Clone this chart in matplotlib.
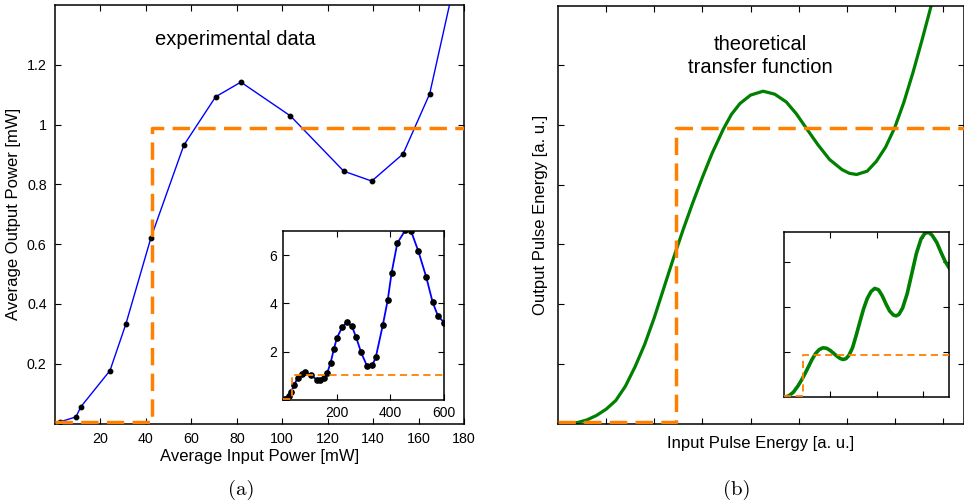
import numpy as np
import matplotlib
matplotlib.use("Agg")
import matplotlib.pyplot as plt

plt.rcParams['font.family'] = ['Liberation Sans', 'DejaVu Sans']

# measured transfer: input power [mW] vs output power [mW]
p_in = [2.0, 9.2, 11.4, 24.2, 31.2, 42.2, 56.7, 70.7, 81.8, 103.6, 127.1, 139.4,
        153.2, 164.9, 178, 190.5, 201.6, 221, 239, 257, 273, 291, 313, 333, 346,
        372, 390, 404.5, 425.6, 455, 476, 503.5, 533, 556.7, 576.5, 600]
p_out = [0.005, 0.022, 0.056, 0.177, 0.333, 0.621, 0.931, 1.093, 1.142, 1.029,
         0.844, 0.811, 0.902, 1.103, 1.55, 2.13, 2.58, 3.02, 3.23, 3.05, 2.59,
         1.97, 1.41, 1.43, 1.79, 3.12, 4.14, 5.28, 6.50, 7.03, 7.01, 6.17, 5.09,
         4.05, 3.48, 3.20]

# ideal step (orange dashed)
step_x_a = [0, 42.5, 42.5, 180]
step_y_a = [0.004, 0.004, 0.99, 0.99]
step_x_ai = [0, 33, 33, 600]
step_y_ai = [0.03, 0.03, 1.02, 1.02]

# theoretical transfer function
th_x = [0, 0.2, 0.4, 0.6, 0.8, 1.0, 1.2, 1.4, 1.6, 1.8, 2.0, 2.2, 2.4, 2.6,
        2.8, 3.0, 3.2, 3.43, 3.6, 3.78, 4.0, 4.26, 4.5, 4.74, 4.95, 5.16, 5.4,
        5.64, 5.9, 6.05, 6.2, 6.42, 6.61, 6.8, 6.99, 7.18, 7.37, 7.56, 7.75, 8.0]
th_y = [0, 0.0005, 0.003, 0.012, 0.027, 0.048, 0.077, 0.125, 0.19, 0.265,
        0.355, 0.455, 0.555, 0.650, 0.740, 0.825, 0.905, 0.985, 1.035, 1.072,
        1.100, 1.113, 1.103, 1.077, 1.037, 0.988, 0.933, 0.884, 0.850, 0.838,
        0.834, 0.845, 0.878, 0.925, 0.990, 1.075, 1.175, 1.285, 1.40, 1.56]
step_x_b = [0, 2.45, 2.45, 8.42]
step_y_b = [0.004, 0.004, 0.99, 0.99]

# theoretical, wider range (inset)
thi_x = [0, 0.1, 0.2, 0.3, 0.4, 0.5, 0.6, 0.68, 0.76, 0.84, 0.92, 1.0, 1.08,
         1.16, 1.22, 1.28, 1.34, 1.40, 1.48, 1.56, 1.64, 1.72, 1.80, 1.88,
         1.96, 2.04, 2.12, 2.20, 2.28, 2.36, 2.42, 2.48, 2.56, 2.66, 2.76,
         2.86, 2.96, 3.04, 3.12, 3.20, 3.30, 3.40, 3.48, 3.57]
thi_y = [0, 0.03, 0.11, 0.25, 0.42, 0.62, 0.83, 0.97, 1.06, 1.10, 1.09, 1.04,
         0.97, 0.90, 0.86, 0.84, 0.86, 0.93, 1.10, 1.38, 1.68, 1.97, 2.20,
         2.35, 2.42, 2.39, 2.26, 2.08, 1.92, 1.83, 1.81, 1.84, 1.98, 2.30,
         2.75, 3.20, 3.52, 3.64, 3.67, 3.60, 3.44, 3.20, 3.02, 2.87]
step_x_bi = [0, 0.42, 0.42, 3.57]
step_y_bi = [0.02, 0.02, 0.94, 0.94]

orange = '#ff8000'
W, H = 964, 504

fig = plt.figure(figsize=(W / 100, H / 100), dpi=100)


def box(ax, fs=10.3):
    ax.tick_params(direction='in', top=True, right=True, length=4,
                   width=0.8, labelsize=fs, pad=6)
    for s in ax.spines.values():
        s.set_linewidth(1.1)


# (a) experimental
ax1 = fig.add_axes([55 / W, 80.5 / H, 409 / W, 418.5 / H])
ax1.plot(p_in, p_out, '-', color='blue', lw=1.0, zorder=2)
ax1.plot(p_in, p_out, 'o', color='black', ms=3.2, zorder=3)
ax1.plot(step_x_a, step_y_a, '--', color=orange, lw=2.5, dashes=(5, 2.4), zorder=4)
ax1.set_xlim(0, 180)
ax1.set_ylim(0, 1.4)
ax1.set_xticks(range(20, 181, 20))
ax1.set_yticks([0.2, 0.4, 0.6, 0.8, 1.0, 1.2])
ax1.set_yticklabels(['0.2', '0.4', '0.6', '0.8', '1', '1.2'])
box(ax1)
ax1.set_xlabel('Average Input Power [mW]', fontsize=12, labelpad=2)
ax1.set_ylabel('Average Output Power [mW]', fontsize=12, labelpad=4)
ax1.text(0.44, 0.918, 'experimental data', transform=ax1.transAxes,
         ha='center', va='center', fontsize=14.5)

ax1i = fig.add_axes([282.7 / W, 104 / H, 161.6 / W, 169 / H])
ax1i.plot(p_in, p_out, '-', color='blue', lw=1.3, zorder=2)
ax1i.plot(p_in, p_out, 'o', color='black', ms=3.8, zorder=3)
ax1i.plot(step_x_ai, step_y_ai, '--', color=orange, lw=1.3, dashes=(4, 2.5), zorder=4)
ax1i.set_xlim(0, 600)
ax1i.set_ylim(0, 7)
ax1i.set_xticks([200, 400, 600])
ax1i.set_yticks([2, 4, 6])
box(ax1i, fs=10)
ax1i.tick_params(pad=4)

# (b) theory
ax2 = fig.add_axes([558 / W, 80.5 / H, 405.5 / W, 418 / H])
ax2.plot(th_x, th_y, '-', color='green', lw=2.3, zorder=2)
ax2.plot(step_x_b, step_y_b, '--', color=orange, lw=2.5, dashes=(5, 2.4), zorder=3)
ax2.set_xlim(0, 8.42)
ax2.set_ylim(0, 1.4)
ax2.set_xticks(range(1, 9))
ax2.set_yticks([0.2, 0.4, 0.6, 0.8, 1.0, 1.2])
ax2.set_xticklabels([])
ax2.set_yticklabels([])
box(ax2)
ax2.set_xlabel('Input Pulse Energy [a. u.]', fontsize=12, labelpad=3)
ax2.set_ylabel('Output Pulse Energy [a. u.]', fontsize=12, labelpad=1.5)
ax2.text(0.5, 0.88, 'theoretical\ntransfer function', transform=ax2.transAxes,
         ha='center', va='center', fontsize=14.5, linespacing=1.25)

ax2i = fig.add_axes([784 / W, 106.7 / H, 165.3 / W, 165.6 / H])
ax2i.plot(thi_x, thi_y, '-', color='green', lw=2.6, zorder=2)
ax2i.plot(step_x_bi, step_y_bi, '--', color=orange, lw=1.3, dashes=(4, 2.5), zorder=3)
ax2i.set_xlim(0, 3.57)
ax2i.set_ylim(0, 3.68)
ax2i.set_xticks([1, 2, 3])
ax2i.set_yticks([1, 2, 3])
ax2i.set_xticklabels([])
ax2i.set_yticklabels([])
box(ax2i)

fig.text(241.7 / W, 1 - 490 / H, '(a)', family='cmr10', fontsize=15,
         ha='center', va='center')
fig.text(737 / W, 1 - 490 / H, '(b)', family='cmr10', fontsize=15,
         ha='center', va='center')

fig.savefig('out.png', dpi=100)
